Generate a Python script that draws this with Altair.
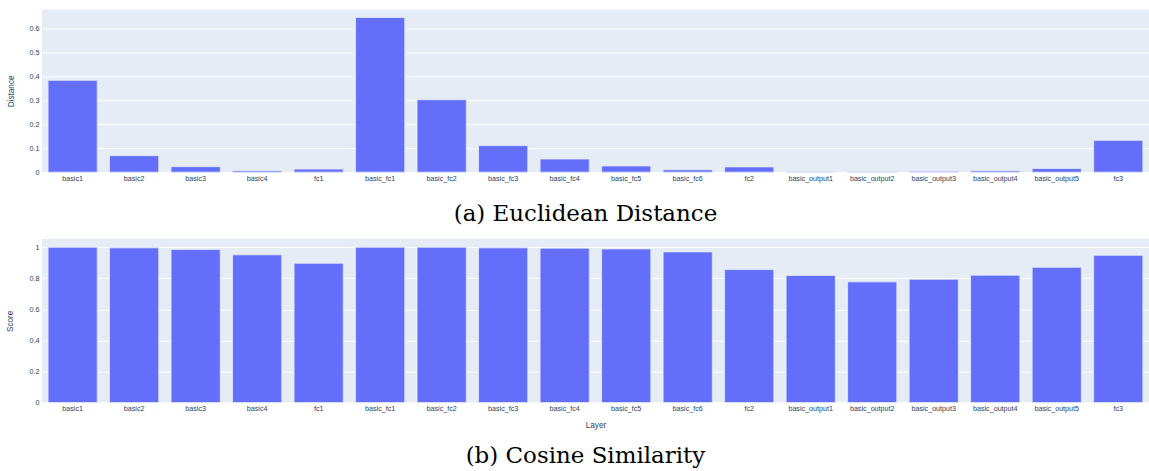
import altair as alt
import pandas as pd

layers = ["basic1", "basic2", "basic3", "basic4", "fc1", "basic_fc1", "basic_fc2",
          "basic_fc3", "basic_fc4", "basic_fc5", "basic_fc6", "fc2", "basic_output1",
          "basic_output2", "basic_output3", "basic_output4", "basic_output5", "fc3"]
distance = [0.384, 0.069, 0.023, 0.006, 0.013, 0.647, 0.303, 0.111, 0.055, 0.026,
            0.010, 0.022, 0.002, 0.002, 0.004, 0.006, 0.015, 0.133]
cosine = [1.0, 0.996, 0.985, 0.951, 0.897, 1.0, 1.0, 0.996, 0.994, 0.989, 0.970,
          0.856, 0.818, 0.777, 0.794, 0.820, 0.871, 0.948]
dist_ticks = [0, 0.1, 0.2, 0.3, 0.4, 0.5, 0.6]
cos_ticks = [0, 0.2, 0.4, 0.6, 0.8, 1.0]

df = pd.DataFrame({"Layer": layers, "Distance": distance, "Score": cosine})

BAR = "#636efa"
TXT = "#2a3f5f"
LABEL_FONT = "Liberation Sans"
CAP_FONT = "DejaVu Serif"
W = 1110

xscale = alt.Scale(paddingInner=0.2, paddingOuter=0.1)


def xaxis(title):
    kw = dict(labelAngle=0, labelFont=LABEL_FONT, labelFontSize=7.2, labelColor=TXT,
              labelPadding=2, ticks=False, domain=False, grid=False,
              labelOverlap=False, labelLimit=200)
    if title:
        return alt.Axis(title=title, titleFont=LABEL_FONT, titleFontSize=8.2,
                        titleFontWeight="normal", titleColor=TXT, titlePadding=10, **kw)
    return alt.Axis(title=None, **kw)


def yaxis(title, values, pad):
    return alt.Axis(title=title, values=values, format=".1~f", labelFont=LABEL_FONT,
                    labelFontSize=7.2, labelColor=TXT, labelPadding=3, ticks=False,
                    domain=False, gridColor="white", gridWidth=1,
                    titleFont=LABEL_FONT, titleFontSize=8.2, titleFontWeight="normal",
                    titleColor=TXT, titlePadding=pad)


top = alt.Chart(df).mark_bar(color=BAR, stroke="#E5ECF6", strokeWidth=0.8).encode(
    x=alt.X("Layer:N", sort=layers, scale=xscale, axis=xaxis(None)),
    y=alt.Y("Distance:Q", scale=alt.Scale(domain=[0, 0.68], nice=False),
            axis=yaxis("Distance", dist_ticks, 13)),
).properties(
    width=W, height=163,
    title=alt.TitleParams(text="(a) Euclidean Distance", orient="bottom", anchor="middle",
                          font=CAP_FONT, fontSize=23, fontWeight="normal", color="black",
                          offset=22, dx=-10),
)

bottom = alt.Chart(df).mark_bar(color=BAR, stroke="#E5ECF6", strokeWidth=0.8).encode(
    x=alt.X("Layer:N", sort=layers, scale=xscale, axis=xaxis("Layer")),
    y=alt.Y("Score:Q", scale=alt.Scale(domain=[0, 1.053], nice=False),
            axis=yaxis("Score", cos_ticks, 14)),
).properties(
    width=W, height=164,
    title=alt.TitleParams(text="(b) Cosine Similarity", orient="bottom", anchor="middle",
                          font=CAP_FONT, fontSize=23, fontWeight="normal", color="black",
                          offset=16, dx=-10),
)

chart = alt.vconcat(top, bottom, spacing=12).properties(
    padding={"left": 6, "top": 9, "right": 0, "bottom": 0},
    background="white",
).configure_view(fill="#E5ECF6", strokeWidth=0)

chart.save("out.html", embed_options={"renderer": "svg", "actions": False})
